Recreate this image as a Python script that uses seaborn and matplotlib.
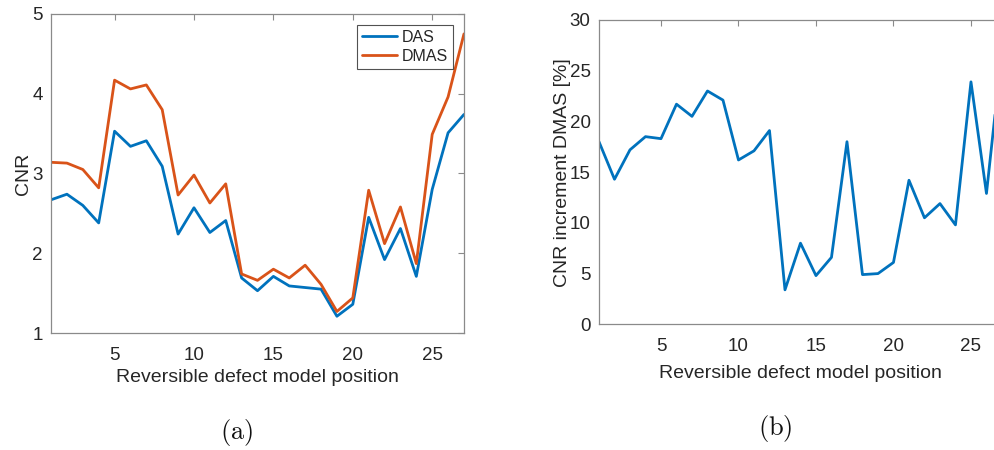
import numpy as np
import pandas as pd
import matplotlib
matplotlib.use("Agg")
import matplotlib.pyplot as plt
import seaborn as sns

# Positions of the reversible defect model
positions = list(range(1, 28))

# CNR for delay-and-sum and delay-multiply-and-sum beamforming
cnr_das = [2.67, 2.74, 2.60, 2.38, 3.53, 3.34, 3.41, 3.09, 2.24, 2.57,
           2.26, 2.41, 1.69, 1.53, 1.71, 1.59, 1.57, 1.55, 1.21, 1.36,
           2.45, 1.92, 2.31, 1.71, 2.80, 3.51, 3.74]
cnr_dmas = [3.14, 3.13, 3.05, 2.82, 4.17, 4.06, 4.11, 3.80, 2.73, 2.98,
            2.63, 2.87, 1.74, 1.66, 1.80, 1.69, 1.85, 1.61, 1.27, 1.44,
            2.79, 2.12, 2.58, 1.87, 3.49, 3.96, 4.75]

# CNR increment of DMAS over DAS [%]
increment = [18.0, 14.3, 17.2, 18.5, 18.3, 21.7, 20.5, 23.0, 22.1, 16.2,
             17.1, 19.1, 3.4, 8.0, 4.8, 6.6, 18.0, 4.9, 5.0, 6.1,
             14.2, 10.5, 11.9, 9.8, 23.9, 12.9, 27.0]

methods = ["DAS", "DMAS"]
colors = ["#0072BD", "#D95319"]
xlabel = "Reversible defect model position"

sns.set_style("white")
plt.rcParams["font.family"] = ["Liberation Sans", "DejaVu Sans"]
plt.rcParams["mathtext.fontset"] = "cm"

fig = plt.figure(figsize=(9.95, 4.5), dpi=100)
ax1 = fig.add_axes([0.0513, 0.260, 0.4150, 0.709])
ax2 = fig.add_axes([0.6020, 0.2793, 0.4050, 0.6763])

df = pd.DataFrame({
    "position": positions * 2,
    "CNR": cnr_das + cnr_dmas,
    "method": [methods[0]] * len(positions) + [methods[1]] * len(positions),
})
sns.lineplot(data=df, x="position", y="CNR", hue="method", hue_order=methods,
             palette=colors, linewidth=2.0, ax=ax1)

df2 = pd.DataFrame({"position": positions, "inc": increment})
sns.lineplot(data=df2, x="position", y="inc", color=colors[0], linewidth=2.0,
             ax=ax2)

tick_color = "#262626"
spine_color = "#8a8a8a"

for ax in (ax1, ax2):
    ax.set_xlim(1, 27)
    ax.set_xticks([5, 10, 15, 20, 25])
    ax.tick_params(direction="in", length=4, width=0.8, color=spine_color,
                   labelcolor=tick_color, labelsize=13.5, top=True,
                   pad=6)
    ax.tick_params(axis="x", pad=10)
    for s in ax.spines.values():
        s.set_color(spine_color)
        s.set_linewidth(0.9)

ax1.set_xlabel(xlabel, fontsize=14, color=tick_color, labelpad=4)
ax2.set_xlabel(xlabel, fontsize=14, color=tick_color, labelpad=7)

ax1.set_ylim(1, 5)
ax1.set_yticks([1, 2, 3, 4, 5])
ax1.tick_params(right=True)
ax1.set_ylabel("CNR", fontsize=14, color=tick_color, labelpad=0)

ax2.set_ylim(0, 30)
ax2.set_yticks([0, 5, 10, 15, 20, 25, 30])
ax2.set_ylabel("CNR increment DMAS [%]", fontsize=14, color=tick_color,
               labelpad=-1)

leg = ax1.legend(loc="upper right", fontsize=11.5, frameon=True,
                 fancybox=False, handlelength=2.2, borderaxespad=0.7,
                 labelspacing=0.25, handletextpad=0.3, borderpad=0.3)
leg.get_frame().set_edgecolor("#262626")
leg.get_frame().set_linewidth(0.8)
for t in leg.get_texts():
    t.set_color(tick_color)
for line in leg.get_lines():
    line.set_linewidth(2.0)

fig.text(237 / 995, 1 - 432 / 450, r"$\mathrm{(a)}$", fontsize=19,
         ha="center", va="center", color="#111111")
fig.text(775 / 995, 1 - 428 / 450, r"$\mathrm{(b)}$", fontsize=19,
         ha="center", va="center", color="#111111")

fig.savefig("out.png", dpi=100)
